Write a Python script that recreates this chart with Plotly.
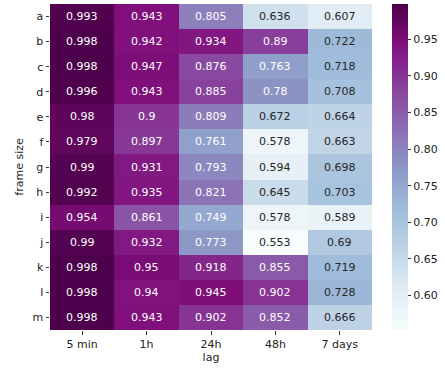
import plotly.graph_objects as go

rows = ["a", "b", "c", "d", "e", "f", "g", "h", "i", "j", "k", "l", "m"]
cols = ["5 min", "1h", "24h", "48h", "7 days"]
values = [
    [0.993, 0.943, 0.805, 0.636, 0.607],
    [0.998, 0.942, 0.934, 0.89, 0.722],
    [0.998, 0.947, 0.876, 0.763, 0.718],
    [0.996, 0.943, 0.885, 0.78, 0.708],
    [0.98, 0.9, 0.809, 0.672, 0.664],
    [0.979, 0.897, 0.761, 0.578, 0.663],
    [0.99, 0.931, 0.793, 0.594, 0.698],
    [0.992, 0.935, 0.821, 0.645, 0.703],
    [0.954, 0.861, 0.749, 0.578, 0.589],
    [0.99, 0.932, 0.773, 0.553, 0.69],
    [0.998, 0.95, 0.918, 0.855, 0.719],
    [0.998, 0.94, 0.945, 0.902, 0.728],
    [0.998, 0.943, 0.902, 0.852, 0.666],
]
cbar_ticks = [0.60, 0.65, 0.70, 0.75, 0.80, 0.85, 0.90, 0.95]

font = "DejaVu Sans"
fs = 11
fig = go.Figure(go.Heatmap(
    z=values, x=cols, y=rows, colorscale="BuPu",
    xgap=0, ygap=0,
    colorbar=dict(
        x=1.062, xanchor="left", xpad=0, ypad=0, y=1, yanchor="top", yref="paper",
        len=1, lenmode="fraction", thickness=16, outlinewidth=0,
        tickmode="array",
        tickvals=cbar_ticks, ticktext=[f"{v:.2f}" for v in cbar_ticks],
        ticks="outside", ticklen=3.5, tickwidth=0.8, tickcolor="#333",
        tickfont=dict(family=font, size=fs, color="#222"),
    ),
    hoverinfo="skip",
))

anns = []
for i, r in enumerate(rows):
    for j, c in enumerate(cols):
        v = values[i][j]
        anns.append(dict(
            x=c, y=r, text=f"{v:g}", showarrow=False,
            font=dict(family=font, size=fs, color="white" if v >= 0.74 else "#262626"),
        ))

fig.update_layout(
    width=445, height=371,
    margin=dict(l=50, r=73, t=4, b=41, autoexpand=False),
    paper_bgcolor="white", plot_bgcolor="white",
    annotations=anns,
    font=dict(family=font, size=fs, color="#222"),
    xaxis=dict(
        title=dict(text="lag", font=dict(family=font, size=fs), standoff=2),
        automargin=False,
        ticks="outside", ticklen=3.5, tickwidth=0.8, tickcolor="#333",
        showgrid=False, zeroline=False, showline=False,
        tickfont=dict(family=font, size=fs),
    ),
    yaxis=dict(
        title=dict(text="frame size", font=dict(family=font, size=fs), standoff=6),
        automargin=False,
        autorange="reversed",
        ticks="outside", ticklen=3.5, tickwidth=0.8, tickcolor="#333",
        showgrid=False, zeroline=False, showline=False,
        tickfont=dict(family=font, size=fs),
    ),
)

fig.write_html(
    "out.html",
    config={"displayModeBar": False},
    post_script="document.body.style.margin='0';document.body.style.overflow='hidden';",
)
